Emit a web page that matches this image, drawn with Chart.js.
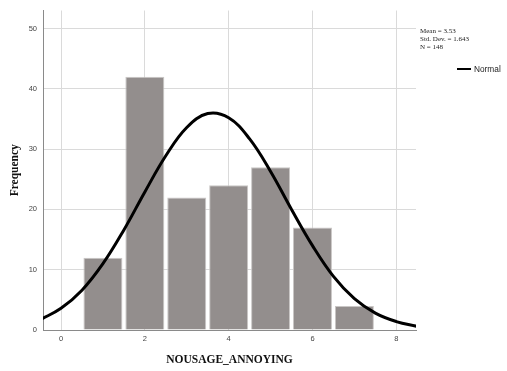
<!DOCTYPE html>
<html>
<head>
<meta charset="utf-8">
<script src="https://cdn.jsdelivr.net/npm/chart.js@4"></script>
<style>
  html, body { margin: 0; padding: 0; background: #fff; }
  #wrap { position: relative; width: 507px; height: 371px; }
  .stats {
    position: absolute; left: 420px; top: 27px;
    font-family: "Liberation Serif", serif; font-size: 7px; line-height: 8px; color: #222;
  }
  .legend {
    position: absolute; left: 457px; top: 64px;
    font-family: "Liberation Sans", sans-serif; font-size: 8.3px; color: #222;
    display: flex; align-items: center;
  }
  .legend .swatch { width: 14px; height: 2.5px; background: #000; margin-right: 3px; }
</style>
</head>
<body>
<div id="wrap">
  <canvas id="myChart" width="507" height="371"></canvas>
  <div class="stats">Mean = 3.53<br>Std. Dev. = 1.643<br>N = 148</div>
  <div class="legend"><span class="swatch"></span>Normal</div>
</div>
<script>
// histogram bins (NOUSAGE_ANNOYING)
const binValues = [1, 2, 3, 4, 5, 6, 7];
const frequencies = [12, 42, 22, 24, 27, 17, 4];

// normal curve
const curveX = [-0.5, 0, 0.5, 1, 1.5, 2, 2.5, 3, 3.5, 4, 4.5, 5, 5.5, 6, 6.5, 7, 7.5, 8, 8.5];
const curveY = [1.7, 3.6, 6.6, 11.0, 16.6, 22.9, 28.9, 33.6, 35.9, 35.2, 31.7, 26.3, 20.0, 14.0, 8.9, 5.2, 2.8, 1.4, 0.6];

const barPoints = binValues.map((x, i) => ({ x: x, y: frequencies[i] }));
const curvePoints = curveX.map((x, i) => ({ x: x, y: curveY[i] }));

const ctx = document.getElementById('myChart');

new Chart(ctx, {
  type: 'bar',
  data: {
    datasets: [
      {
        type: 'line',
        label: 'Normal',
        data: curvePoints,
        borderColor: '#000000',
        borderWidth: 3,
        pointRadius: 0,
        tension: 0.4,
        fill: false,
        order: 0
      },
      {
        type: 'bar',
        label: 'Frequency',
        data: barPoints,
        backgroundColor: '#938e8d',
        borderColor: '#c9c6c5',
        borderWidth: 1,
        barPercentage: 1,
        categoryPercentage: 0.93,
        order: 1
      }
    ]
  },
  options: {
    responsive: false,
    animation: false,
    layout: { padding: { top: 9, right: 91, left: 0, bottom: 0 } },
    plugins: {
      legend: { display: false },
      tooltip: { enabled: false }
    },
    scales: {
      x: {
        type: 'linear',
        min: -0.43,
        max: 8.47,
        offset: false,
        grid: { color: '#dadada', drawTicks: false, offset: false },
        border: { color: '#8a8a8a' },
        ticks: {
          stepSize: 2,
          includeBounds: false,
          padding: 4,
          color: '#444',
          font: { family: 'Liberation Sans', size: 7.5 }
        },
        title: {
          display: true,
          text: 'NOUSAGE_ANNOYING',
          color: '#111',
          padding: { top: 0, bottom: 4 },
          font: { family: 'Liberation Serif', size: 11.5, weight: 'bold' }
        },
        afterFit: function(scale) { scale.height = 41; }
      },
      y: {
        min: 0,
        max: 53,
        grid: { color: '#dadada', drawTicks: false },
        border: { color: '#8a8a8a' },
        ticks: {
          stepSize: 10,
          includeBounds: false,
          padding: 6,
          color: '#444',
          font: { family: 'Liberation Sans', size: 7.5 }
        },
        title: {
          display: true,
          text: 'Frequency',
          color: '#111',
          padding: { top: 8, bottom: 0 },
          font: { family: 'Liberation Serif', size: 11.5, weight: 'bold' }
        },
        afterFit: function(scale) { scale.width = 43; }
      }
    }
  }
});
</script>
</body>
</html>
